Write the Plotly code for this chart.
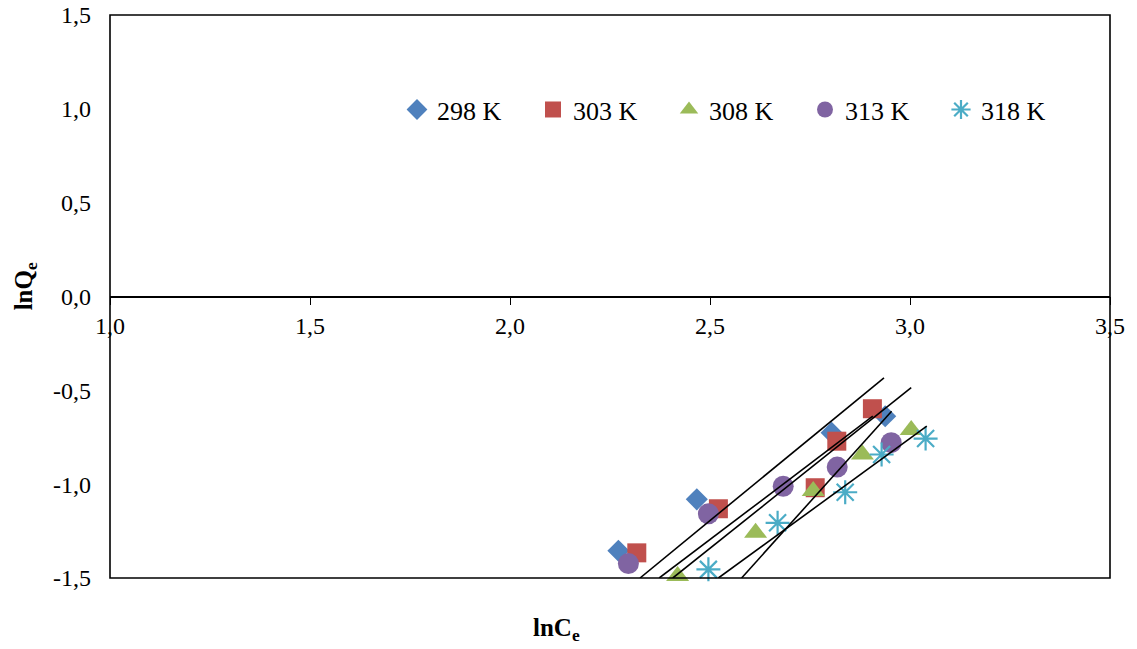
import plotly.graph_objects as go

# ---- data ----
x298 = [2.271, 2.467, 2.804, 2.938]
y298 = [-1.355, -1.081, -0.726, -0.638]
x303 = [2.317, 2.521, 2.763, 2.817, 2.906]
y303 = [-1.366, -1.131, -1.019, -0.771, -0.598]
x308 = [2.419, 2.614, 2.758, 2.881, 3.003]
y308 = [-1.490, -1.259, -1.037, -0.842, -0.712]
x313 = [2.296, 2.496, 2.683, 2.818, 2.953]
y313 = [-1.423, -1.158, -1.011, -0.909, -0.779]
x318 = [2.496, 2.669, 2.838, 2.929, 3.039]
y318 = [-1.454, -1.206, -1.043, -0.842, -0.757]

series_names = ["298 K", "303 K", "308 K", "313 K", "318 K"]

# trend-line end points
fit_x_start = [2.325, 2.373, 2.407, 2.521, 2.579]
fit_y_start = [-1.5, -1.5, -1.5, -1.5, -1.5]
fit_x_end = [2.935, 2.907, 3.003, 3.042, 2.954]
fit_y_end = [-0.433, -0.638, -0.486, -0.691, -0.611]

x_ticks = [1.0, 1.5, 2.0, 2.5, 3.0, 3.5]
x_tick_text = ["1,0", "1,5", "2,0", "2,5", "3,0", "3,5"]
y_ticks = [-1.5, -1.0, -0.5, 0.0, 0.5, 1.0, 1.5]
y_tick_text = ["-1,5", "-1,0", "-0,5", "0,0", "0,5", "1,0", "1,5"]

# ---- styles ----
colors = ["#4F81BD", "#C0504D", "#9BBB59", "#8064A2", "#4BACC6"]
symbols = ["diamond", "square", "triangle-up", "circle", "asterisk-open"]
sizes = [17, 19, 20, 21, 20]
FONT = "Liberation Serif, Times New Roman, serif"

fig = go.Figure()
xs = [x298, x303, x308, x313, x318]
ys = [y298, y303, y308, y313, y318]
for name, xv, yv, c, s, sz in zip(series_names, xs, ys, colors, symbols, sizes):
    marker = dict(color=c, symbol=s, size=sz)
    if s == "asterisk-open":
        marker["line"] = dict(color=c, width=2.2)
    else:
        marker["line"] = dict(width=0)
    fig.add_trace(go.Scatter(x=xv, y=yv, mode="markers", name=name,
                             marker=marker, cliponaxis=False))

for xs0, ys0, xs1, ys1 in zip(fit_x_start, fit_y_start, fit_x_end, fit_y_end):
    fig.add_trace(go.Scatter(x=[xs0, xs1], y=[ys0, ys1], mode="lines",
                             line=dict(color="black", width=1.6),
                             showlegend=False, hoverinfo="skip"))

fig.update_layout(
    width=1137, height=649,
    margin=dict(l=110, r=27, t=15, b=71, autoexpand=False),
    paper_bgcolor="white", plot_bgcolor="white",
    font=dict(family=FONT, size=24, color="black"),
    showlegend=True,
    legend=dict(orientation="h", x=0.287, y=0.832, xanchor="left", yanchor="middle",
                font=dict(family=FONT, size=26, color="black"),
                bgcolor="rgba(0,0,0,0)", itemsizing="trace",
                entrywidth=91, entrywidthmode="pixels"),
    xaxis=dict(range=[1.0, 3.5], tickvals=x_ticks, ticktext=x_tick_text,
               showgrid=False, zeroline=False, showline=True, linecolor="black",
               linewidth=1.6, ticks="outside", ticklen=8, tickwidth=1.3,
               tickcolor="black", anchor="free", position=0.5,
               ticklabelstandoff=0,
               tickfont=dict(family=FONT, size=24, color="black")),
    yaxis=dict(range=[-1.5, 1.5], tickvals=y_ticks, ticktext=y_tick_text,
               showgrid=False, zeroline=False, showline=False, ticks="",
               ticklabelstandoff=18,
               tickfont=dict(family=FONT, size=24, color="black")),
    shapes=[dict(type="rect", xref="paper", yref="paper", x0=0, x1=1, y0=0, y1=1,
                 line=dict(color="black", width=1.6), fillcolor="rgba(0,0,0,0)",
                 layer="above")],
    annotations=[
        dict(text="<b>lnC<sub>e</sub></b>", xref="paper", yref="paper",
             x=0.446, y=-0.092, xanchor="center", yanchor="middle", showarrow=False,
             font=dict(family=FONT, size=25, color="black")),
        dict(text="<b>lnQ<sub>e</sub></b>", xref="paper", yref="paper",
             x=-0.085, y=0.518, xanchor="center", yanchor="middle", showarrow=False,
             textangle=-90, font=dict(family=FONT, size=25, color="black")),
    ],
)

fig.write_html("out.html")
